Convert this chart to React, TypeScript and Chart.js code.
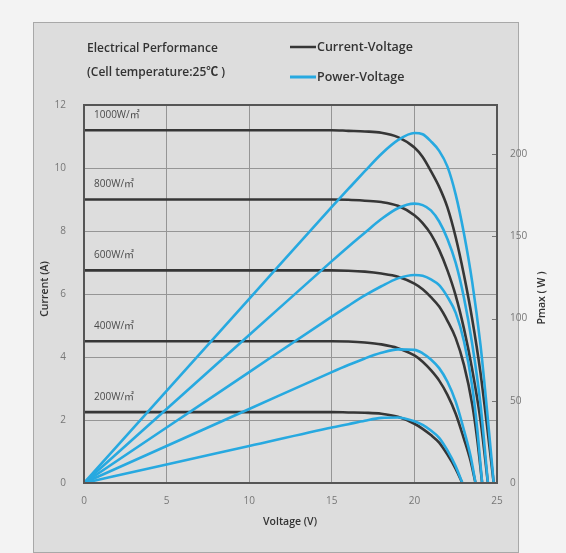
import { useEffect, useRef } from 'react';
import { Chart, registerables } from 'chart.js';

Chart.register(...registerables);

// ---- Data ----
const irradianceLabels = ['1000W/㎡', '800W/㎡', '600W/㎡', '400W/㎡', '200W/㎡'];

const voltage1000 = [0, 5, 10, 15, 16, 17, 18, 19, 20, 20.5, 21, 21.5, 22, 22.5, 23, 23.5, 24, 24.4, 24.8];
const current1000 = [11.2, 11.2, 11.2, 11.2, 11.18, 11.16, 11.12, 10.98, 10.65, 10.35, 9.9, 9.4, 8.75, 7.8, 6.6, 5.2, 3.5, 1.8, 0];
const power1000 = [0, 56, 112, 168, 178.9, 189.7, 200.2, 208.6, 213, 212.2, 207.9, 202.1, 192.5, 175.5, 151.8, 122.2, 84, 43.9, 0];

const voltage800 = [0, 5, 10, 15, 16, 17, 18, 19, 20, 20.5, 21, 21.5, 22, 22.5, 23, 23.5, 24, 24.45];
const current800 = [9.0, 9.0, 9.0, 9.0, 8.99, 8.96, 8.92, 8.8, 8.5, 8.25, 7.9, 7.4, 6.75, 5.95, 4.9, 3.6, 2.0, 0];
const power800 = [0, 45, 90, 135, 143.8, 152.3, 160.6, 167.2, 170, 169.1, 165.9, 159.1, 148.5, 133.9, 112.7, 84.6, 48, 0];

const voltage600 = [0, 5, 10, 15, 16, 17, 18, 19, 20, 20.5, 21, 21.5, 22, 22.5, 23, 23.5, 23.8, 24.1];
const current600 = [6.75, 6.75, 6.75, 6.75, 6.74, 6.71, 6.65, 6.55, 6.33, 6.15, 5.9, 5.6, 5.15, 4.6, 3.75, 2.5, 1.4, 0];
const power600 = [0, 33.75, 67.5, 101.25, 107.8, 114.1, 119.7, 124.5, 126.6, 126.1, 123.9, 120.4, 113.3, 103.5, 86.3, 58.8, 33.3, 0];

const voltage400 = [0, 5, 10, 15, 16, 17, 18, 19, 20, 20.5, 21, 21.5, 22, 22.5, 23, 23.4, 23.7];
const current400 = [4.5, 4.5, 4.5, 4.5, 4.49, 4.46, 4.4, 4.28, 4.05, 3.85, 3.58, 3.25, 2.8, 2.2, 1.4, 0.7, 0];
const power400 = [0, 22.5, 45, 67.5, 71.8, 75.8, 79.2, 81.3, 81, 78.9, 75.2, 69.9, 61.6, 49.5, 32.2, 16.4, 0];

const voltage200 = [0, 5, 10, 15, 16, 17, 18, 19, 20, 20.5, 21, 21.5, 22, 22.5, 22.9];
const current200 = [2.25, 2.25, 2.25, 2.25, 2.24, 2.23, 2.2, 2.1, 1.88, 1.72, 1.52, 1.28, 0.9, 0.45, 0];
const power200 = [0, 11.25, 22.5, 33.75, 35.8, 37.9, 39.6, 39.9, 37.6, 35.3, 31.9, 27.5, 19.8, 10.1, 0];

const voltageTicks = [0, 5, 10, 15, 20, 25];
const currentTicks = [0, 2, 4, 6, 8, 10, 12];
const powerTicks = [0, 50, 100, 150, 200];

const curves = [
  { v: voltage1000, i: current1000, p: power1000 },
  { v: voltage800, i: current800, p: power800 },
  { v: voltage600, i: current600, p: power600 },
  { v: voltage400, i: current400, p: power400 },
  { v: voltage200, i: current200, p: power200 },
];

const DARK = '#363636';
const BLUE = '#27a9e0';
const FONT = "'Open Sans', 'Noto Sans CJK SC', sans-serif";

const toPoints = (xs: number[], ys: number[]) => xs.map((x, k) => ({ x, y: ys[k] }));

const decorPlugin = {
  id: 'decor',
  beforeDraw(chart: any) {
    const ctx = chart.ctx as CanvasRenderingContext2D;
    ctx.save();
    ctx.fillStyle = '#f3f3f3';
    ctx.fillRect(0, 0, chart.width, chart.height);
    ctx.fillStyle = '#dddddd';
    ctx.fillRect(33, 22, 485, 530);
    ctx.strokeStyle = '#a8a8a8';
    ctx.lineWidth = 1;
    ctx.strokeRect(33.5, 22.5, 485, 530);
    ctx.restore();
  },
  afterDraw(chart: any) {
    const ctx = chart.ctx as CanvasRenderingContext2D;
    const { left, right, top, bottom } = chart.chartArea;
    const xs = chart.scales.x;
    const ys = chart.scales.y;
    const y1 = chart.scales.y1;
    ctx.save();

    // small inner tick marks of the right axis
    ctx.strokeStyle = '#777';
    ctx.lineWidth = 1;
    powerTicks.forEach((t) => {
      const py = Math.round(y1.getPixelForValue(t)) + 0.5;
      ctx.beginPath();
      ctx.moveTo(right - 5, py);
      ctx.lineTo(right, py);
      ctx.stroke();
    });

    // plot frame
    ctx.strokeStyle = '#555555';
    ctx.lineWidth = 2;
    ctx.strokeRect(left, top, right - left, bottom - top);

    // irradiance labels
    ctx.fillStyle = '#4a4a4a';
    ctx.font = `10px ${FONT}`;
    ctx.textAlign = 'left';
    ctx.textBaseline = 'middle';
    irradianceLabels.forEach((lab, k) => {
      const py = ys.getPixelForValue(curves[k].i[0]) - 15;
      ctx.fillText(lab, xs.getPixelForValue(0) + 10, py);
    });

    // title
    ctx.fillStyle = '#333333';
    ctx.font = `600 12px ${FONT}`;
    ctx.fillText('Electrical Performance', 87, 49);
    ctx.fillText('(Cell temperature:25℃ )', 87, 73);

    // legend
    ctx.lineWidth = 2.5;
    ctx.strokeStyle = DARK;
    ctx.beginPath();
    ctx.moveTo(290, 47);
    ctx.lineTo(316, 47);
    ctx.stroke();
    ctx.strokeStyle = BLUE;
    ctx.lineWidth = 3;
    ctx.beginPath();
    ctx.moveTo(290, 77);
    ctx.lineTo(316, 77);
    ctx.stroke();
    ctx.fillStyle = '#333333';
    ctx.font = `600 12.5px ${FONT}`;
    ctx.fillText('Current-Voltage', 317, 47);
    ctx.fillText('Power-Voltage', 317, 77);

    // axis titles
    ctx.font = `600 10.5px ${FONT}`;
    ctx.textAlign = 'center';
    ctx.fillText('Voltage (V)', 290, 522);
    ctx.save();
    ctx.translate(45, 289);
    ctx.rotate(-Math.PI / 2);
    ctx.fillText('Current (A)', 0, 0);
    ctx.restore();
    ctx.save();
    ctx.translate(542, 298);
    ctx.rotate(-Math.PI / 2);
    ctx.fillText('Pmax ( W )', 0, 0);
    ctx.restore();

    ctx.restore();
  },
};

export default function App() {
  const ref = useRef<HTMLCanvasElement>(null);

  useEffect(() => {
    const datasets: any[] = [];
    curves.forEach((c, k) => {
      datasets.push({
        label: `Power-Voltage ${irradianceLabels[k]}`,
        data: toPoints(c.v, c.p),
        yAxisID: 'y1',
        borderColor: BLUE,
        borderWidth: 2.6,
        pointRadius: 0,
        fill: false,
        cubicInterpolationMode: 'monotone',
        order: 0,
      });
    });
    curves.forEach((c, k) => {
      datasets.push({
        label: `Current-Voltage ${irradianceLabels[k]}`,
        data: toPoints(c.v, c.i),
        yAxisID: 'y',
        borderColor: DARK,
        borderWidth: 2.6,
        pointRadius: 0,
        fill: false,
        cubicInterpolationMode: 'monotone',
        order: 1,
      });
    });

    const tickFont = { family: FONT, size: 10 };
    const gridColor = '#959595';

    const chart = new Chart(ref.current!, {
      type: 'line',
      data: { datasets },
      plugins: [decorPlugin],
      options: {
        responsive: false,
        animation: false,
        layout: { padding: { top: 105, left: 0, right: 0, bottom: 0 } },
        plugins: { legend: { display: false }, tooltip: { enabled: false } },
        scales: {
          x: {
            type: 'linear',
            min: voltageTicks[0],
            max: voltageTicks[voltageTicks.length - 1],
            ticks: { stepSize: 5, padding: 12, color: '#777', font: tickFont },
            grid: { color: gridColor, lineWidth: 1, drawTicks: false },
            border: { display: false },
            afterFit: (s: any) => { s.height = 70; },
          },
          y: {
            type: 'linear',
            position: 'left',
            min: currentTicks[0],
            max: currentTicks[currentTicks.length - 1],
            ticks: { stepSize: 2, padding: 18, color: '#777', font: tickFont },
            grid: { color: gridColor, lineWidth: 1, drawTicks: false },
            border: { display: false },
            afterFit: (s: any) => { s.width = 84; },
          },
          y1: {
            type: 'linear',
            position: 'right',
            min: powerTicks[0],
            max: 230,
            ticks: { stepSize: 50, padding: 13, color: '#777', font: tickFont, includeBounds: false },
            grid: { drawOnChartArea: false, drawTicks: false },
            border: { display: false },
            afterFit: (s: any) => { s.width = 69; },
          },
        },
      } as any,
    });
    return () => chart.destroy();
  }, []);

  return (
    <div style={{ position: 'fixed', left: 0, top: 0, width: 566, height: 553 }}>
      <canvas ref={ref} width={566} height={553} style={{ display: 'block' }} />
    </div>
  );
}
